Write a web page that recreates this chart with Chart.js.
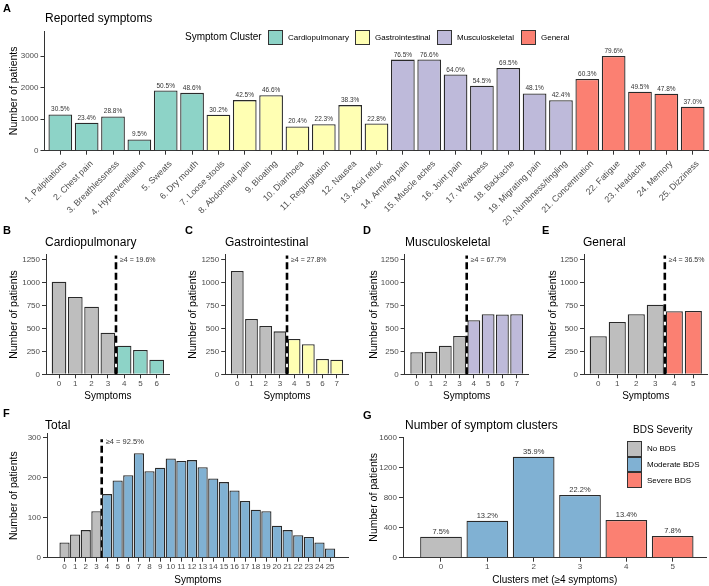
<!DOCTYPE html>
<html>
<head>
<meta charset="utf-8">
<script src="https://cdn.jsdelivr.net/npm/chart.js@4.4.0/dist/chart.umd.min.js"></script>
<style>
  body { margin: 0; background: #fff; font-family: "Liberation Sans", Arial, sans-serif; }
  #wrap { position: relative; width: 709px; height: 586px; overflow: hidden; background: #fff; }
  #wrap canvas { position: absolute; }
  .txt { position: absolute; white-space: nowrap; line-height: 1.2; color: #000; }
  .key { position: absolute; box-sizing: border-box; border: 1px solid #333; }
</style>
</head>
<body>
<div id="wrap">
  <canvas id="chart-a" width="709" height="250" style="left:0;top:0"></canvas>
  <canvas id="chart-b" width="178" height="160" style="left:0;top:245px"></canvas>
  <canvas id="chart-c" width="178" height="160" style="left:178px;top:245px"></canvas>
  <canvas id="chart-d" width="178" height="160" style="left:356px;top:245px"></canvas>
  <canvas id="chart-e" width="175" height="160" style="left:534px;top:245px"></canvas>
  <canvas id="chart-f" width="355" height="176" style="left:0;top:410px"></canvas>
  <canvas id="chart-g" width="354" height="176" style="left:355px;top:410px"></canvas>
</div>
<script>
// ── data ─────────────────────────────────────
const symptomNames = [
  "1. Palpitations", "2. Chest pain", "3. Breathlessness", "4. Hyperventilation",
  "5. Sweats", "6. Dry mouth", "7. Loose stools", "8. Abdominal pain", "9. Bloating",
  "10. Diarrhoea", "11. Regurgitation", "12. Nausea", "13. Acid reflux",
  "14. Arm/leg pain", "15. Muscle aches", "16. Joint pain", "17. Weakness",
  "18. Backache", "19. Migrating pain", "20. Numbness/tingling",
  "21. Concentration", "22. Fatigue", "23. Headache", "24. Memory", "25. Dizziness",
];
const symptomCounts = [
  1153, 885, 1089, 359, 1909, 1837,
  1142, 1607, 1761, 771, 843, 1448, 862,
  2892, 2895, 2419, 2060, 2627, 1818, 1603,
  2279, 3009, 1871, 1807, 1399,
];
const symptomPct = [
  "30.5%", "23.4%", "28.8%", "9.5%", "50.5%", "48.6%",
  "30.2%", "42.5%", "46.6%", "20.4%", "22.3%", "38.3%", "22.8%",
  "76.5%", "76.6%", "64.0%", "54.5%", "69.5%", "48.1%", "42.4%",
  "60.3%", "79.6%", "49.5%", "47.8%", "37.0%",
];
const symptomCluster = [0,0,0,0,0,0, 1,1,1,1,1,1,1, 2,2,2,2,2,2,2, 3,3,3,3,3];
const clusterNames = ["Cardiopulmonary", "Gastrointestinal", "Musculoskeletal", "General"];

const cardioCounts = [1006, 840, 735, 452, 311, 264, 159];
const gastroCounts = [1123, 601, 525, 467, 384, 326, 166, 159];
const muscCounts = [239, 246, 311, 416, 587, 652, 650, 652];
const generalCounts = [413, 568, 652, 757, 685, 688];
const totalCounts = [38, 58, 69, 116, 159, 193, 206, 261, 216, 225, 248, 242, 244,
                     226, 198, 189, 168, 142, 120, 116, 80, 69, 56, 52, 38, 23];
const thresholdText = ["≥4 = 19.6%", "≥4 = 27.8%", "≥4 = 67.7%", "≥4 = 36.5%", "≥4 = 92.5%"];

const clusterMetCounts = [280, 493, 1347, 836, 503, 289];
const clusterMetPct = ["7.5%", "13.2%", "35.9%", "22.2%", "13.4%", "7.8%"];
const severityNames = ["No BDS", "Moderate BDS", "Severe BDS"];
const clusterMetSeverity = [0, 1, 1, 1, 2, 2];

const ticks1250 = [0, 250, 500, 750, 1000, 1250];

// ── styles ───────────────────────────────────
const clusterColors = ["#8DD3C7", "#FFFFB3", "#BEBADA", "#FB8072"];
const severityColors = ["#BEBEBE", "#80B1D3", "#FB8072"];
const GREY = "#BEBEBE";
const AXIS = "#333333";
const EDGE = "#2a2a2a";

Chart.defaults.font.family = "'Liberation Sans', Arial, sans-serif";
Chart.defaults.color = "#4d4d4d";

// labels above bars
const barLabels = {
  id: "barLabels",
  afterDatasetsDraw(chart, args, o) {
    if (!o.labels) return;
    const ctx = chart.ctx;
    ctx.save();
    ctx.font = o.size + "px 'Liberation Sans', Arial, sans-serif";
    ctx.fillStyle = "#333";
    ctx.textAlign = "center";
    ctx.textBaseline = "bottom";
    chart.getDatasetMeta(0).data.forEach((bar, i) => {
      ctx.fillText(o.labels[i], bar.x, bar.y - 1.5);
    });
    ctx.restore();
  },
};

// dashed cut-off line (between 3 and 4 symptoms)
const cutLine = {
  id: "cutLine",
  beforeDatasetsDraw(chart, args, o) {
    if (o.at == null) return;
    const { ctx, scales: { x, y } } = chart;
    const px = x.getPixelForValue(o.at);
    ctx.save();
    ctx.strokeStyle = "#000";
    ctx.lineWidth = 2.6;
    ctx.setLineDash([7, 3.5]);
    ctx.beginPath();
    ctx.moveTo(px, y.getPixelForValue(0));
    ctx.lineTo(px, y.getPixelForValue(o.top));
    ctx.stroke();
    ctx.setLineDash([]);
    ctx.font = o.size + "px 'Liberation Sans', Arial, sans-serif";
    ctx.fillStyle = "#333";
    ctx.textAlign = "left";
    ctx.textBaseline = "middle";
    ctx.fillText(o.text, px + 4, y.getPixelForValue(o.textAt));
    ctx.restore();
  },
};

function barPanel(id, c) {
  return new Chart(document.getElementById(id), {
    type: "bar",
    data: {
      datasets: [{
        data: c.values.map((v, i) => ({ x: i, y: v })),
        backgroundColor: c.colors,
        borderColor: EDGE,
        borderWidth: 1.3,
        barPercentage: c.barPct || 0.9,
        categoryPercentage: 1,
      }],
    },
    options: {
      responsive: false,
      animation: false,
      devicePixelRatio: 1,
      layout: { padding: { top: c.padTop, right: c.padRight, left: 0, bottom: 0 } },
      plugins: {
        legend: { display: false },
        tooltip: { enabled: false },
        barLabels: { labels: c.pct, size: c.pctSize },
        cutLine: c.cut || {},
      },
      scales: {
        x: {
          type: "linear",
          min: c.xMin,
          max: c.xMax,
          offset: false,
          afterBuildTicks: (s) => { s.ticks = c.ticks.map((_, i) => ({ value: i })); },
          afterFit: (s) => { s.height = c.xHeight; },
          ticks: {
            autoSkip: false,
            minRotation: c.rot || 0,
            maxRotation: c.rot || 0,
            padding: c.xTickPad,
            labelOffset: c.labelShift || 0,
            font: { size: c.xTickSize || 8 },
            callback: (v) => c.ticks[v],
          },
          grid: { drawOnChartArea: false, offset: false, tickLength: 4, color: AXIS },
          border: { color: AXIS, width: 1 },
          title: c.xTitle
            ? { display: true, text: c.xTitle, color: "#000", font: { size: 10 }, padding: { top: 0, bottom: c.xTitlePad } }
            : { display: false },
        },
        y: {
          min: 0,
          max: c.yMax,
          afterBuildTicks: (s) => { s.ticks = c.yTicks.map((v) => ({ value: v })); },
          afterFit: (s) => { s.width = c.yWidth; },
          ticks: { padding: 2, font: { size: 8 }, callback: (v) => String(v) },
          grid: { drawOnChartArea: false, tickLength: 4, color: AXIS },
          border: { color: AXIS, width: 1 },
          title: { display: true, text: "Number of patients", color: "#000", font: { size: 10.5 }, padding: { top: c.yTitlePad, bottom: 0 } },
        },
      },
    },
    plugins: [barLabels, cutLine],
  });
}

const idx = (arr) => arr.map((_, i) => String(i));
const splitColors = (arr, col) => arr.map((_, i) => (i < 4 ? GREY : col));

// A — reported symptoms
barPanel("chart-a", {
  values: symptomCounts, ticks: symptomNames, pct: symptomPct, pctSize: 6.5,
  colors: symptomCluster.map((k) => clusterColors[k]),
  xMin: -0.6, xMax: 24.6, yMax: 3800, yTicks: [0, 1000, 2000, 3000],
  padTop: 31, padRight: 0.5, yWidth: 44.5, xHeight: 99.3,
  rot: 45, xTickPad: 4, labelShift: 5, xTickSize: 8.8, yTitlePad: 8,
});

// B–E — per cluster
const smallPanels = [
  { id: "chart-b", values: cardioCounts, col: clusterColors[0], xMin: -0.8, xMax: 6.8, yWidth: 46, padRight: 8.3, yTitlePad: 8 },
  { id: "chart-c", values: gastroCounts, col: clusterColors[1], xMin: -0.85, xMax: 7.85, yWidth: 47.2, padRight: 7.2, yTitlePad: 9 },
  { id: "chart-d", values: muscCounts, col: clusterColors[2], xMin: -0.85, xMax: 7.85, yWidth: 48.6, padRight: 5.2, yTitlePad: 12 },
  { id: "chart-e", values: generalCounts, col: clusterColors[3], xMin: -0.75, xMax: 5.75, yWidth: 50, padRight: 1.4, yTitlePad: 12.5 },
];
smallPanels.forEach((p, k) => {
  barPanel(p.id, {
    values: p.values, ticks: idx(p.values), colors: splitColors(p.values, p.col),
    xMin: p.xMin, xMax: p.xMax, yMax: 1300, yTicks: ticks1250,
    padTop: 9.7, padRight: p.padRight, yWidth: p.yWidth, xHeight: 30.7,
    xTickPad: 1, xTitle: "Symptoms", xTitlePad: 3, yTitlePad: p.yTitlePad,
    cut: { at: 3.5, top: 1290, textAt: 1240, text: thresholdText[k], size: 7 },
  });
});

// F — total
barPanel("chart-f", {
  values: totalCounts, ticks: idx(totalCounts), colors: splitColors(totalCounts, "#80B1D3"),
  xMin: -1.65, xMax: 26.75, yMax: 310, yTicks: [0, 100, 200, 300],
  padTop: 23.7, padRight: 6.3, yWidth: 47, xHeight: 28.3, barPct: 0.96,
  xTickPad: 0, xTitle: "Symptoms", xTitlePad: 0, yTitlePad: 8,
  cut: { at: 3.5, top: 296, textAt: 290, text: thresholdText[4], size: 7.5 },
});

// G — clusters met
barPanel("chart-g", {
  values: clusterMetCounts, ticks: idx(clusterMetCounts), pct: clusterMetPct, pctSize: 7.5,
  colors: clusterMetSeverity.map((s) => severityColors[s]),
  xMin: -0.82, xMax: 5.73, yMax: 1610, yTicks: [0, 400, 800, 1200, 1600],
  padTop: 27, padRight: 2.5, yWidth: 48, xHeight: 28.3,
  xTickPad: 0, xTitle: "Clusters met (≥4 symptoms)", xTitlePad: 0, yTitlePad: 13,
});

// ── titles, panel letters, legends ───────────
const wrap = document.getElementById("wrap");
function put(text, x, cy, size, bold) {
  const d = document.createElement("div");
  d.className = "txt";
  d.textContent = text;
  d.style.left = x + "px";
  d.style.top = cy - size * 0.6 + "px";
  d.style.fontSize = size + "px";
  if (bold) d.style.fontWeight = "bold";
  wrap.appendChild(d);
}
function key(color, x, y, w, h) {
  const d = document.createElement("div");
  d.className = "key";
  Object.assign(d.style, { left: x + "px", top: y + "px", width: w + "px", height: h + "px", background: color });
  wrap.appendChild(d);
}

put("A", 3, 9, 11, true);
put("Reported symptoms", 45, 18, 12);
put("Symptom Cluster", 185, 37, 10);
[268, 355, 437, 521].forEach((x, i) => {
  key(clusterColors[i], x, 30, 15, 15);
  put(clusterNames[i], x + 20, 37.5, 8);
});

[["B", 3], ["C", 185], ["D", 363], ["E", 542]].forEach(([l, x]) => put(l, x, 231, 11, true));
[45, 225, 405, 583].forEach((x, i) => put(clusterNames[i], x, 242, 12));

put("F", 3, 414, 11, true);
put("Total", 45, 425, 12);
put("G", 363, 416, 11, true);
put("Number of symptom clusters", 405, 425, 12);

put("BDS Severity", 633, 430, 10);
[441, 456.7, 472.4].forEach((y, i) => {
  key(severityColors[i], 627, y, 15, 15.7);
  put(severityNames[i], 647, y + 8, 8);
});
</script>
</body>
</html>
